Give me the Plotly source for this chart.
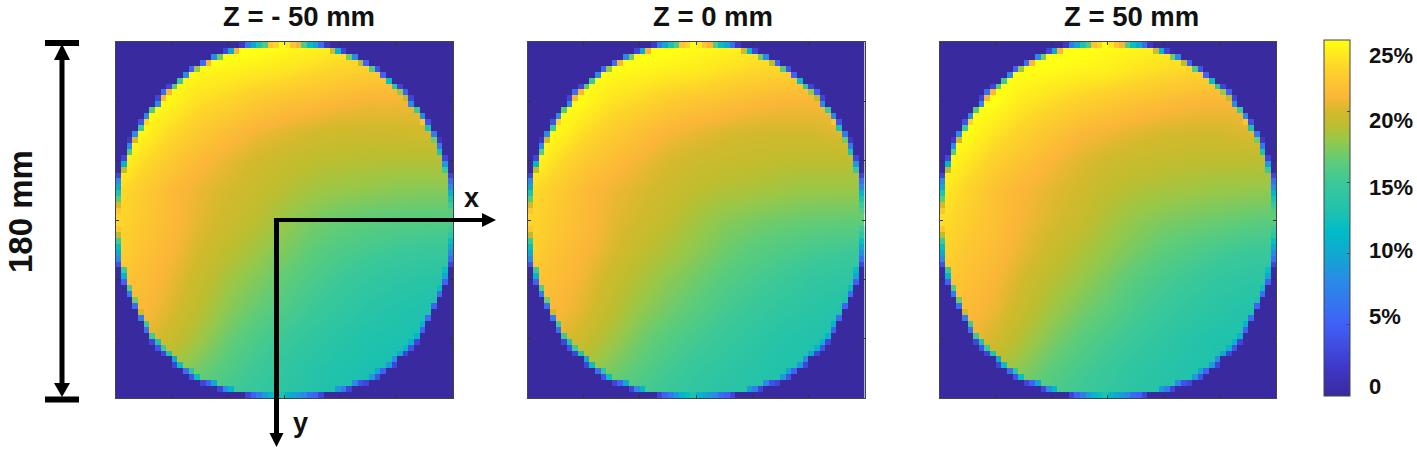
import numpy as np
import plotly.graph_objects as go

W, H = 1417, 454
TITLES = ["Z = - 50 mm", "Z = 0 mm", "Z = 50 mm"]
TITLE_X = [298.5, 713, 1131]
COLORBAR_TICKS = [5, 10, 15, 20]
COLORBAR_LABELS = ["25%", "20%", "15%", "10%", "5%", "0"]
COLORBAR_LABEL_Y = [56, 120, 187, 251, 316, 386]
COARSE_NODES = [0, 5, 10, 15, 20, 25, 30, 35, 40, 45, 50, 55, 60]

# Values (%) at every fifth cell, rows top to bottom
PANEL_A = [
    [26, 26, 26, 26, 25.8, 25.4, 25, 24.8, 24.4, 24, 24, 23.5, 23],
    [26, 26, 25, 24.6, 24.3, 24, 23.7, 23.2, 22.8, 22.5, 22.3, 22, 22],
    [26, 25.3, 24.6, 23.5, 23, 22.3, 21.8, 21.5, 21.1, 20.8, 20.8, 20.8, 21],
    [25.5, 24.6, 23.3, 22.3, 21.5, 20.8, 20.4, 20, 19.8, 19.8, 19.8, 20, 20.2],
    [25, 23.4, 22.2, 21.2, 20.5, 19.9, 19.5, 19.1, 18.9, 18.8, 18.7, 18.7, 18.8],
    [23.5, 22.4, 21.3, 20.6, 20, 19.5, 18.9, 18.3, 18, 17.8, 17.6, 17.5, 17.5],
    [23.2, 22.2, 21.3, 20.4, 19.7, 19, 18, 17.2, 16.7, 16.4, 16.2, 16.1, 16],
    [23, 21.8, 21, 20, 19.1, 18.2, 17.3, 16.4, 15.8, 15.4, 15, 14.8, 14.7],
    [22, 21.5, 20.6, 19.5, 18.3, 17.4, 16.5, 15.7, 15, 14.4, 14, 13.7, 13.5],
    [21.5, 21.2, 20.2, 19, 17.6, 16.6, 15.8, 15, 14.3, 13.7, 13.3, 13, 12.9],
    [21, 20.5, 19.5, 18.2, 16.7, 15.7, 14.9, 14.2, 13.6, 13.1, 12.9, 12.7, 12.6],
    [20, 19.5, 18.2, 17, 15.9, 15, 14.2, 13.6, 13.1, 12.8, 12.6, 12.5, 12.5],
    [19, 18.5, 17, 15.8, 15, 14.4, 13.8, 13.2, 12.8, 12.6, 12.5, 12.5, 12.5],
]
PANEL_B = [
    [26, 26, 26, 26, 25.8, 25.4, 25, 24.8, 24.4, 24, 24, 23.5, 23],
    [26, 26, 25, 24.8, 24.5, 24.2, 24, 23.5, 23.1, 22.9, 22.5, 22.3, 22],
    [26, 25.3, 24.8, 23.7, 23.2, 22.5, 22, 21.7, 21.3, 21, 21, 21, 21],
    [25.5, 24.8, 23.5, 22.5, 21.7, 21, 20.6, 20.2, 20, 20, 20, 20.3, 20.5],
    [25, 23.5, 22.3, 21.5, 20.8, 20.1, 19.7, 19.5, 19.3, 19.1, 19, 19, 19],
    [23.5, 22.5, 21.4, 20.7, 20.2, 19.7, 19.1, 18.7, 18.5, 18.2, 18, 18, 18],
    [23.2, 22.2, 21.4, 20.5, 19.9, 19.2, 18.3, 17.6, 17.2, 16.9, 16.7, 16.6, 16.5],
    [23, 21.8, 21.1, 20.2, 19.3, 18.5, 17.7, 16.9, 16.3, 15.9, 15.5, 15.2, 15],
    [22, 21.5, 20.7, 19.6, 18.6, 17.7, 16.9, 16.1, 15.5, 15, 14.4, 14.1, 14],
    [21.5, 21.2, 20.3, 19.1, 17.9, 17, 16.2, 15.4, 14.8, 14.2, 13.8, 13.4, 13.2],
    [21, 20.5, 19.6, 18.3, 17, 16.1, 15.3, 14.7, 14.1, 13.5, 13.2, 13, 13],
    [20, 19.5, 18.4, 17.2, 16.2, 15.3, 14.6, 14.1, 13.6, 13.2, 13, 13, 13],
    [19, 18.5, 17.2, 16, 15.3, 14.7, 14.1, 13.6, 13.3, 13, 13, 13, 13],
]
PANEL_C = [
    [26, 26, 26, 26, 25.8, 25.4, 25, 24.8, 24.5, 24.2, 24, 23.5, 23],
    [26, 26, 25.2, 25, 24.7, 24.4, 24.2, 23.7, 23.3, 23, 22.7, 22.3, 22],
    [26, 25.4, 25, 24, 23.4, 22.8, 22.3, 21.9, 21.5, 21.1, 21, 21, 21],
    [25.5, 25, 23.8, 22.8, 22, 21.2, 20.8, 20.4, 20.1, 20, 20, 20.3, 20.5],
    [25.2, 23.9, 22.7, 21.8, 21, 20.3, 19.8, 19.5, 19.3, 19.1, 19, 19, 19],
    [24.2, 23, 21.7, 21, 20.4, 19.9, 19.2, 18.7, 18.4, 18.2, 18, 17.9, 17.8],
    [23.6, 22.6, 21.7, 20.8, 20.2, 19.5, 18.5, 17.8, 17.3, 17, 16.8, 16.5, 16.3],
    [23.3, 22.1, 21.4, 20.5, 19.6, 18.7, 17.9, 17.1, 16.4, 15.9, 15.4, 15, 14.8],
    [22.5, 21.7, 21, 19.9, 18.9, 18, 17.1, 16.2, 15.5, 14.9, 14.3, 14, 13.8],
    [22, 21.4, 20.6, 19.4, 18.2, 17.2, 16.4, 15.5, 14.8, 14.2, 13.7, 13.3, 13],
    [21, 20.8, 19.9, 18.6, 17.3, 16.3, 15.5, 14.8, 14.1, 13.5, 13.1, 13, 13],
    [20, 19.5, 18.7, 17.5, 16.4, 15.5, 14.8, 14.1, 13.6, 13.2, 13, 13, 13],
    [19, 18.5, 17.5, 16.3, 15.5, 14.9, 14.3, 13.7, 13.3, 13, 13, 13, 13],
]

# Rim cells read row by row: first rim column, then left and right rim values (%),
# each listed from the outside of the circle inward.
RIM_START = [22, 19, 17, 15, 13, 12, 11, 9, 8, 7, 7, 6, 5, 4, 4, 3, 2, 2, 2, 1,
             1, 1, 0, 0, 0, 0, 0, 0, 0, 0, 0, 0, 0, 0, 0, 0, 0, 0, 1, 1,
             1, 2, 2, 3, 3, 4, 4, 5, 5, 6, 6, 7, 8, 10, 10, 12, 13, 15, 18, 23]
RIM_LEFT = [[2, 7, 10, 13, 16, 22, 23, 25], [3, 10, 21], [8, 17], [6, 21], [5, 18], [8], [15], [3, 16],
            [6, 21], [3, 21], [8], [16], [8], [4, 23], [15], [8], [2, 20], [8], [16], [3],
            [11], [19], [3], [8], [10], [13], [16], [20], [22], [], [], [22], [19], [15], [12], [10],
            [8], [4], [15], [11], [5], [16], [7], [17], [6], [20], [7], [15], [6], [15],
            [3, 13], [4, 15], [3, 13], [10], [3, 12], [6, 14], [4, 12], [3, 5, 10], [3, 8, 11],
            [3, 5, 7, 9, 11, 12, 13]]
RIM_RIGHT = [[2, 6, 10, 12, 16, 21, 22, 24], [3, 11, 20], [8, 17], [5, 19], [4, 16], [5], [12], [3, 14],
             [5, 18], [3, 19], [8], [15], [8], [4, 22], [13], [7], [2, 17], [7], [13], [3],
             [9], [15], [3], [6], [8], [11], [13], [15], [16], [], [], [15], [14], [12], [10], [8],
             [6], [3], [12], [10], [5], [12], [6], [13], [5], [13], [6], [11], [5], [11],
             [3, 11], [4, 11], [3, 10], [8], [3, 9], [5, 10], [4, 9], [3, 4, 8], [3, 7, 9],
             [3, 5, 6, 8, 9, 10, 11]]

COLORSCALE = [
    [0 / 25, "#3a2a9f"], [2 / 25, "#3e38c8"], [5 / 25, "#4060f8"], [8 / 25, "#2a8ae8"],
    [10 / 25, "#10a8d0"], [11.6 / 25, "#00bcc8"], [13 / 25, "#1fc2ad"], [15 / 25, "#3cc898"],
    [16.5 / 25, "#5fcc78"], [18 / 25, "#98c848"], [19 / 25, "#bcbe30"], [20 / 25, "#d4b92c"],
    [21 / 25, "#fbb638"], [23 / 25, "#fdd42a"], [25 / 25, "#ffff14"],
]

DOMAINS_X = [(115.5, 453), (527.5, 864.5), (939.5, 1276)]
DOMAIN_Y = (42, 398)


def px(x):
    return x / W


def py(y):
    return 1 - y / H


rim = np.full((60, 60), np.nan)
for r in range(60):
    s = RIM_START[r]
    rim[r, :s] = 0
    rim[r, 60 - s:] = 0
    for k, v in enumerate(RIM_LEFT[r]):
        rim[r, s + k] = v
    for k, v in enumerate(RIM_RIGHT[r]):
        rim[r, 59 - s - k] = v

cells = [i + 0.5 for i in range(60)]
fig = go.Figure()
for i, panel in enumerate([PANEL_A, PANEL_B, PANEL_C]):
    sx = "" if i == 0 else str(i + 1)
    fig.add_trace(go.Heatmap(
        x=COARSE_NODES, y=COARSE_NODES, z=panel, zsmooth="best", zmin=0, zmax=25,
        colorscale=COLORSCALE, xaxis="x" + sx, yaxis="y" + sx, showscale=i == 0,
        hoverinfo="skip",
        colorbar=dict(x=px(1324), xanchor="left", xpad=0, ypad=0, y=py(40), yanchor="top",
                      thickness=26, thicknessmode="pixels", len=356, lenmode="pixels",
                      outlinecolor="#444444", outlinewidth=1, ticks="inside", ticklen=3,
                      tickcolor="#444444", tickvals=COLORBAR_TICKS, showticklabels=False),
    ))
    fig.add_trace(go.Heatmap(
        x=cells, y=cells, z=rim.tolist(), zmin=0, zmax=25, colorscale=COLORSCALE,
        xaxis="x" + sx, yaxis="y" + sx, showscale=False, hoverinfo="skip",
    ))
    ax = dict(range=[0, 60], tickvals=list(range(0, 61, 10)), ticks="inside", ticklen=3, tickwidth=1,
              tickcolor="#333333", showticklabels=False, showgrid=False, zeroline=False,
              showline=True, linecolor="#444444", linewidth=1, mirror="allticks")
    fig.update_layout({
        "xaxis" + sx: dict(ax, domain=[px(DOMAINS_X[i][0]), px(DOMAINS_X[i][1])], anchor="y" + sx),
        "yaxis" + sx: dict(ax, range=[60, 0], domain=[py(DOMAIN_Y[1]), py(DOMAIN_Y[0])], anchor="x" + sx),
    })

font = "Liberation Sans"
ann = []
for x, t in zip(TITLE_X, TITLES):
    ann.append(dict(text="<b>%s</b>" % t, x=px(x), y=py(17), xanchor="center", font=dict(size=27.5)))
for t, y in zip(COLORBAR_LABELS, COLORBAR_LABEL_Y):
    ann.append(dict(text="<b>%s</b>" % t, x=px(1367), y=py(y), xanchor="left", font=dict(size=22)))
ann.append(dict(text="<b>180 mm</b>", x=px(20), y=py(212), xanchor="center", textangle=-90, font=dict(size=33)))
ann.append(dict(text="<b>x</b>", x=px(471), y=py(198), xanchor="center", font=dict(size=27)))
ann.append(dict(text="<b>y</b>", x=px(300), y=py(423), xanchor="center", font=dict(size=27)))
for a in ann:
    a.update(xref="paper", yref="paper", showarrow=False, yanchor="middle",
             font=dict(a["font"], family=font, color="#111111"))


def line(x0, y0, x1, y1, w):
    return dict(type="line", xref="paper", yref="paper", x0=px(x0), y0=py(y0), x1=px(x1), y1=py(y1),
                line=dict(color="black", width=w), layer="above")


def tri(pts):
    path = "M " + " L ".join("%.5f %.5f" % (px(a), py(b)) for a, b in pts) + " Z"
    return dict(type="path", xref="paper", yref="paper", path=path, fillcolor="black",
                line=dict(color="black", width=0), layer="above")


shapes = [
    line(45, 43, 79, 43, 6), line(45, 399.5, 79, 399.5, 6), line(62, 55, 62, 388, 5),
    tri([(62, 44), (54, 60), (70, 60)]), tri([(62, 397), (54, 383), (70, 383)]),
    line(274.5, 220, 484, 220, 4), line(276.5, 218, 276.5, 436, 5),
    tri([(496, 220), (482, 213), (482, 227)]), tri([(276.5, 447), (269.5, 433), (283.5, 433)]),
]

fig.update_layout(width=W, height=H, margin=dict(l=0, r=0, t=0, b=0), paper_bgcolor="white",
                  plot_bgcolor="white", annotations=ann, shapes=shapes, showlegend=False)
fig.write_html("out.html", config={"displayModeBar": False},
               post_script="document.body.style.margin='0';document.body.style.overflow='hidden';")
